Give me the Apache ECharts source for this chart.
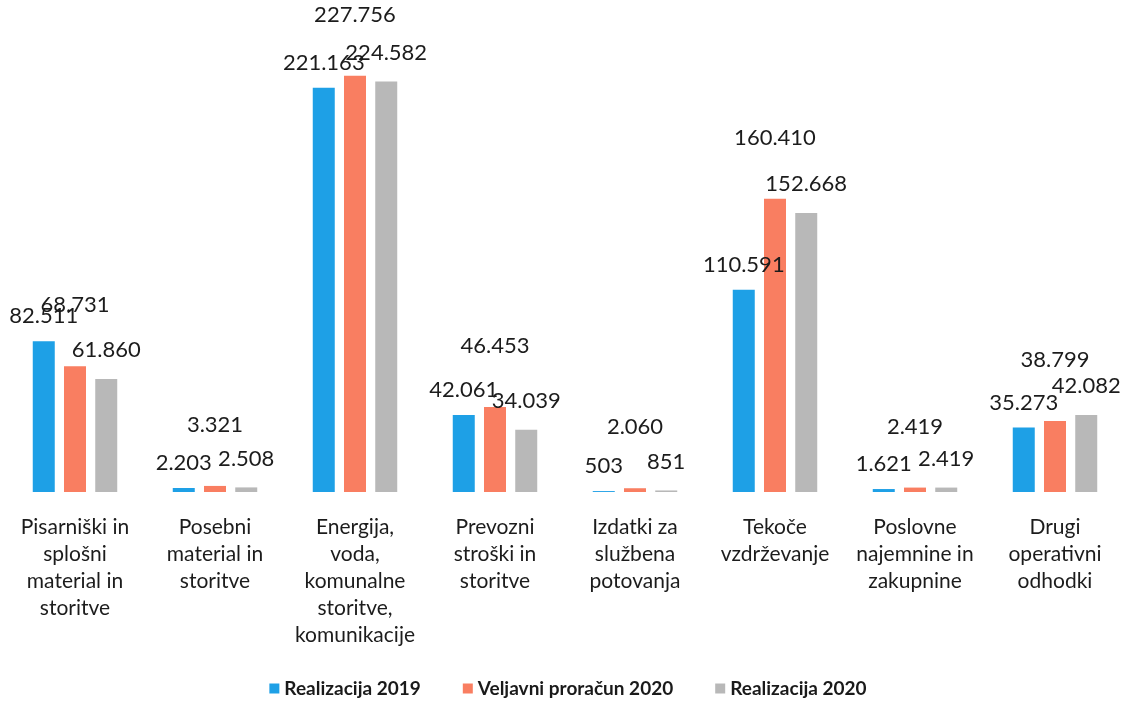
<!DOCTYPE html>
<html>
<head>
<meta charset="utf-8">
<script src="https://cdn.jsdelivr.net/npm/echarts@6/dist/echarts.min.js"></script>
<style>
html,body{margin:0;padding:0;background:#fff;}
#chart{width:1136px;height:701px;}
</style>
</head>
<body>
<div id="chart"></div>
<script>
var categories = [
  'Pisarniški in\nsplošni\nmaterial in\nstoritve',
  'Posebni\nmaterial in\nstoritve',
  'Energija,\nvoda,\nkomunalne\nstoritve,\nkomunikacije',
  'Prevozni\nstroški in\nstoritve',
  'Izdatki za\nslužbena\npotovanja',
  'Tekoče\nvzdrževanje',
  'Poslovne\nnajemnine in\nzakupnine',
  'Drugi\noperativni\nodhodki'
];
var seriesNames = ['Realizacija 2019', 'Veljavni proračun 2020', 'Realizacija 2020'];
var realizacija2019 = [82511, 2203, 221163, 42061, 503, 110591, 1621, 35273];
var veljavni2020 = [68731, 3321, 227756, 46453, 2060, 160410, 2419, 38799];
var realizacija2020 = [61860, 2508, 224582, 34039, 851, 152668, 2419, 42082];

var colors = ['#1ea0e6', '#f97e61', '#b8b8b8'];
var labelDistances = [14, 50, 18];

function fmt(v) {
  return String(v).replace(/\B(?=(\d{3})+(?!\d))/g, '.');
}

var chart = echarts.init(document.getElementById('chart'));
var dataSets = [realizacija2019, veljavni2020, realizacija2020];
var series = dataSets.map(function (d, i) {
  return {
    name: seriesNames[i],
    type: 'bar',
    data: d,
    barWidth: 22,
    barGap: '42%',
    itemStyle: { color: colors[i] },
    label: {
      show: true,
      position: 'top',
      distance: labelDistances[i],
      formatter: function (p) { return fmt(p.value); },
      fontFamily: 'Lato',
      fontSize: 22,
      color: '#1c1c1c'
    }
  };
});

chart.setOption({
  animation: false,
  backgroundColor: '#fff',
  grid: { left: 5, right: 11, top: 35, bottom: 209 },
  legend: {
    bottom: -2,
    left: 'center',
    itemWidth: 10,
    itemHeight: 10,
    itemGap: 42,
    icon: 'rect',
    textStyle: { fontFamily: 'Lato', fontWeight: 'bold', fontSize: 19, color: '#1a1a1a' },
    data: seriesNames
  },
  xAxis: {
    type: 'category',
    data: categories,
    axisLine: { show: false },
    axisTick: { show: false },
    axisLabel: {
      interval: 0,
      margin: 22,
      fontFamily: 'Lato',
      fontSize: 21,
      lineHeight: 27,
      color: '#1c1c1c',
      align: 'center'
    }
  },
  yAxis: {
    type: 'value',
    min: 0,
    max: 250000,
    show: false,
    splitLine: { show: false }
  },
  series: series
});
</script>
</body>
</html>
